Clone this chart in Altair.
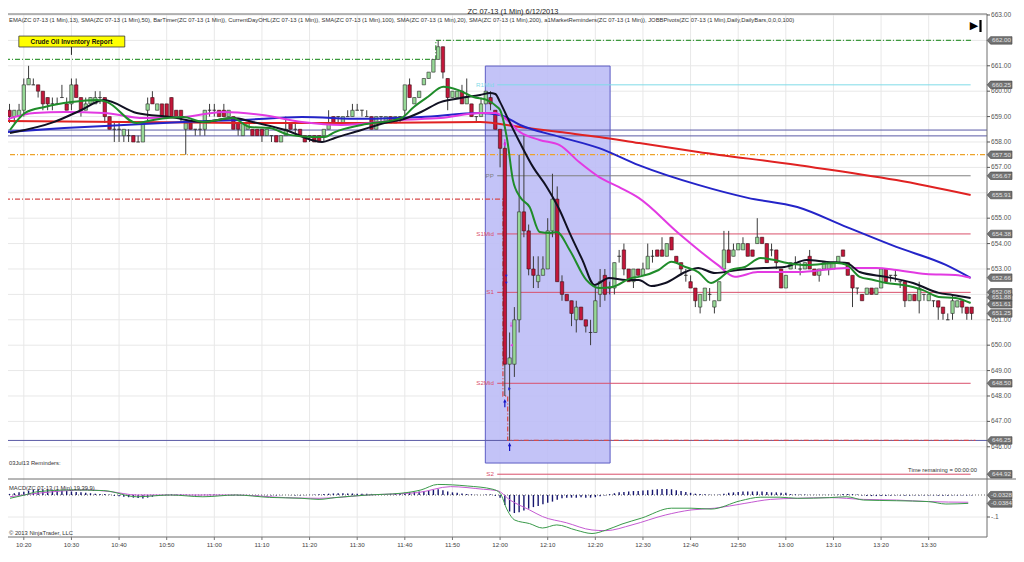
import altair as alt
import pandas as pd

FONT = "Liberation Sans"
W, H = 1016, 553

# ---------------- data ----------------
# one-minute bars, minute of day (617 = 10:17 ... 819 = 13:39)
bar_minutes = list(range(617, 820))
opens = [
    659.25, 659.0, 659.0, 659.25, 660.25, 660.25, 660.25, 660.0, 659.75, 659.5,
    659.5, 659.75, 659.5, 659.5, 660.25, 659.75, 659.25, 659.5, 659.5, 659.75,
    659.75, 659.0, 658.5, 658.5, 658.25, 658.25, 658.25, 658.0, 658.0, 659.25,
    659.75, 659.25, 659.5, 659.5, 659.75, 659.25, 659.25, 658.5, 658.75, 658.5,
    658.5, 658.5, 659.25, 659.25, 659.25, 659.25, 659.0, 659.0, 658.75, 658.25,
    658.5, 658.5, 658.5, 658.5, 658.25, 658.25, 658.25, 658.0, 658.25, 658.75,
    658.5, 658.5, 658.25, 658.25, 658.25, 658.25, 658.25, 658.5, 659.0, 659.0,
    658.75, 659.0, 659.0, 659.25, 659.25, 659.0, 659.0, 658.5, 659.0, 658.75,
    659.0, 658.75, 659.0, 659.25, 660.25, 659.5, 659.75, 660.25, 660.5, 660.75,
    661.25, 661.75, 660.5, 659.75, 659.75, 660.0, 659.5, 659.5, 659.0, 659.0,
    659.5, 659.75, 659.25, 658.5, 657.75, 649.25, 649.25, 651.0, 655.25, 654.5,
    653.0, 652.5, 652.75, 653.0, 654.5, 655.75, 652.5, 652.0, 651.75, 651.0,
    651.5, 651.0, 650.5, 650.5, 652.0, 652.75, 652.25, 652.25, 653.5, 653.75,
    653.0, 652.5, 653.0, 652.75, 653.0, 653.5, 653.75, 653.75, 653.5, 654.25,
    653.5, 653.25, 652.75, 652.5, 652.25, 651.5, 651.75, 652.0, 651.5, 651.75,
    653.0, 653.75, 653.5, 653.75, 653.75, 654.0, 653.75, 654.0, 654.25, 654.0,
    653.75, 653.75, 653.0, 652.25, 653.0, 653.25, 653.0, 653.0, 653.5, 653.0,
    652.75, 653.0, 653.0, 653.0, 653.25, 653.75, 653.25, 652.75, 652.25, 652.0,
    652.0, 652.25, 652.0, 652.25, 653.0, 652.75, 652.75, 652.5, 652.5, 651.75,
    652.0, 651.75, 652.0, 651.75, 651.75, 651.75, 651.5, 651.0, 651.25, 651.5,
    651.75, 651.5, 651.5]
highs = [
    659.5, 659.25, 659.5, 660.5, 661.0, 660.5, 660.25, 660.0, 659.75, 659.75,
    659.75, 660.25, 659.75, 660.5, 660.5, 659.75, 659.75, 659.75, 660.0, 660.0,
    659.75, 659.0, 658.75, 658.75, 658.5, 658.5, 658.25, 658.25, 658.75, 659.75,
    660.0, 659.5, 659.5, 659.5, 659.75, 659.25, 659.25, 658.75, 658.75, 658.5,
    658.75, 659.25, 659.5, 659.5, 659.25, 659.5, 659.25, 659.0, 658.75, 658.75,
    658.75, 658.5, 658.5, 658.5, 658.5, 658.25, 658.25, 658.25, 659.0, 658.75,
    658.75, 658.5, 658.25, 658.25, 658.25, 658.25, 658.5, 659.25, 659.0, 659.0,
    659.0, 659.25, 659.5, 659.5, 659.25, 659.25, 659.0, 659.0, 659.0, 659.0,
    659.0, 659.0, 659.0, 660.25, 660.5, 659.75, 660.0, 660.5, 660.75, 661.25,
    662.0, 661.75, 660.5, 660.0, 660.0, 660.25, 660.5, 659.5, 659.0, 659.75,
    660.0, 660.0, 659.25, 658.5, 658.0, 650.5, 651.5, 657.5, 658.25, 654.75,
    653.5, 653.5, 653.5, 655.0, 656.75, 656.25, 652.75, 652.0, 651.75, 651.75,
    651.5, 651.0, 651.0, 652.25, 653.0, 653.0, 652.5, 653.25, 653.75, 654.0,
    653.0, 653.0, 653.0, 653.25, 654.0, 653.75, 653.75, 654.25, 654.0, 654.25,
    653.5, 653.25, 653.0, 652.75, 652.25, 652.0, 652.25, 652.25, 651.75, 652.5,
    654.5, 654.5, 654.0, 654.0, 654.25, 654.0, 653.75, 655.0, 654.25, 654.0,
    654.0, 653.75, 653.0, 652.75, 653.25, 653.5, 653.25, 653.25, 653.75, 653.0,
    653.0, 653.25, 653.25, 653.25, 653.5, 653.75, 653.25, 652.75, 652.25, 652.0,
    652.25, 652.25, 652.25, 653.0, 653.0, 652.75, 653.0, 652.5, 652.5, 652.0,
    652.0, 652.5, 652.0, 652.0, 651.75, 651.75, 651.5, 651.25, 652.0, 651.75,
    651.75, 651.5, 651.5]
lows = [
    658.75, 658.75, 659.0, 659.0, 660.25, 660.25, 659.75, 659.25, 659.25, 659.25,
    659.5, 659.75, 659.25, 659.25, 659.75, 659.0, 659.25, 659.5, 659.5, 659.5,
    658.75, 658.5, 658.0, 658.0, 658.0, 658.0, 658.0, 658.0, 658.0, 658.75,
    659.5, 659.25, 659.0, 659.0, 659.0, 659.0, 658.75, 657.5, 658.5, 658.25,
    658.25, 658.25, 659.0, 659.0, 659.0, 659.0, 659.0, 658.5, 658.25, 658.25,
    658.5, 658.25, 658.25, 658.0, 658.25, 658.0, 658.0, 658.0, 658.25, 658.5,
    658.25, 658.25, 658.0, 658.0, 658.0, 658.0, 658.0, 658.5, 658.75, 658.75,
    658.75, 659.0, 659.0, 659.25, 659.0, 659.0, 658.5, 658.5, 658.75, 658.75,
    658.75, 658.75, 658.75, 659.0, 659.75, 659.5, 659.75, 660.25, 660.5, 660.75,
    661.25, 660.5, 659.25, 659.75, 659.75, 659.5, 659.5, 659.0, 658.75, 659.0,
    659.5, 659.25, 658.5, 657.0, 648.0, 646.25, 648.75, 650.5, 654.25, 652.75,
    652.25, 652.25, 652.75, 653.0, 654.25, 652.5, 651.75, 651.75, 650.75, 650.5,
    651.0, 650.5, 650.0, 650.5, 651.5, 651.75, 652.0, 652.0, 653.25, 652.75,
    652.5, 652.25, 652.75, 652.75, 653.0, 653.25, 653.5, 653.5, 653.5, 653.75,
    653.25, 652.75, 652.5, 652.25, 651.5, 651.25, 651.75, 651.75, 651.25, 651.75,
    653.0, 653.25, 653.5, 653.75, 653.75, 653.5, 653.5, 654.0, 654.0, 653.25,
    653.5, 653.0, 652.25, 652.25, 653.0, 653.0, 652.75, 653.0, 653.0, 652.75,
    652.5, 653.0, 652.75, 653.0, 653.25, 653.5, 652.75, 651.5, 652.0, 651.75,
    652.0, 652.0, 652.0, 652.25, 652.5, 652.5, 652.5, 652.25, 651.5, 651.75,
    651.75, 651.25, 651.75, 651.75, 651.5, 651.0, 651.0, 651.0, 651.0, 651.5,
    651.25, 651.0, 651.0]
closes = [
    659.0, 659.25, 659.25, 660.25, 660.5, 660.25, 660.0, 659.5, 659.5, 659.5,
    659.5, 659.75, 659.25, 660.25, 659.75, 659.25, 659.5, 659.75, 659.75, 659.75,
    659.0, 658.5, 658.5, 658.5, 658.5, 658.25, 658.0, 658.0, 658.75, 659.5,
    659.5, 659.5, 659.0, 659.0, 659.0, 659.0, 659.0, 658.75, 658.5, 658.5,
    658.5, 659.25, 659.25, 659.25, 659.0, 659.0, 659.25, 658.5, 658.5, 658.75,
    658.75, 658.25, 658.25, 658.25, 658.5, 658.25, 658.0, 658.25, 658.5, 658.5,
    658.5, 658.25, 658.0, 658.25, 658.0, 658.0, 658.5, 658.75, 658.75, 659.0,
    659.0, 659.0, 659.25, 659.25, 659.25, 659.0, 658.5, 659.0, 659.0, 659.0,
    658.75, 659.0, 659.0, 660.25, 659.75, 659.75, 660.0, 660.5, 660.75, 661.25,
    661.75, 660.75, 659.75, 660.0, 660.0, 659.5, 659.75, 659.0, 659.0, 659.5,
    660.0, 659.5, 658.5, 657.75, 649.25, 649.5, 651.0, 655.25, 654.5, 653.0,
    652.75, 652.75, 653.0, 654.5, 655.75, 652.5, 652.0, 651.75, 651.25, 651.5,
    651.0, 650.75, 650.5, 651.75, 652.5, 652.0, 652.25, 653.25, 653.5, 653.0,
    652.5, 653.0, 652.75, 653.0, 653.5, 653.5, 653.5, 653.5, 654.0, 653.75,
    653.25, 653.0, 652.75, 652.25, 651.75, 652.0, 652.25, 652.0, 651.75, 652.5,
    653.75, 653.25, 653.75, 654.0, 654.0, 653.5, 653.5, 654.25, 654.0, 653.25,
    653.75, 653.25, 652.25, 652.75, 653.25, 653.25, 653.0, 653.25, 653.0, 652.75,
    653.0, 653.25, 653.25, 653.25, 653.5, 653.5, 652.75, 652.25, 652.25, 651.75,
    652.25, 652.0, 652.25, 653.0, 652.5, 652.75, 652.75, 652.5, 651.75, 652.0,
    651.75, 652.25, 652.0, 652.0, 651.75, 651.5, 651.25, 651.0, 651.75, 651.75,
    651.5, 651.25, 651.25]

# moving averages (minute of day, price)
ema13_t = [617.1, 620.2, 624.4, 630.0, 635.4, 637.5, 643.7, 647.2, 653.5, 657.6,
           663.9, 667.4, 671.6, 675.7, 680.5, 683.2, 685.3, 690.9, 699.2, 701.9,
           704.8, 708.1, 711.1, 714.4, 717.3, 719.4, 720.0, 721.5, 722.7,
           724.2, 726.2, 728.3, 730.4, 731.9, 734.6, 738.1, 740.8, 743.5, 747.7,
           749.1, 753.3, 756.0, 758.9, 761.6, 764.3, 765.7, 768.4, 771.4, 774.7,
           777.6, 780.3, 784.4, 790.7, 792.8, 795.5, 798.4, 801.1, 804.6, 808.8,
           812.1, 815.6, 818.8]
ema13_p = [658.47, 659.14, 659.38, 659.57, 659.65, 659.57, 658.75, 658.87, 658.98, 658.79,
           658.94, 658.59, 658.55, 658.28, 658.20, 658.20, 658.39, 658.67, 658.94, 659.38,
           659.77, 660.17, 660.05, 659.77, 659.65, 659.38, 659.26, 658.08, 656.5,
           655.83, 655.44, 654.46, 654.42, 654.46, 653.75, 652.57, 652.25, 652.29, 652.65,
           652.69, 652.96, 653.28, 653.08, 652.88, 652.45, 652.57, 652.96, 653.08, 653.43,
           653.35, 653.24, 653.16, 653.24, 653.16, 652.69, 652.57, 652.45, 652.37, 652.17,
           651.90, 651.86, 651.66]
sma20_t = [617.1, 626.4, 632.1, 636.8, 643.7, 650.8, 657.6, 663.9, 668.0, 674.9,
           682.6, 685.3, 690.9, 695.7, 699.2, 703.4, 707.5, 711.7, 715.8, 717.9,
           719.0, 720.0, 721.5, 724.2, 726.9, 729.8, 732.5, 734.6, 737.3, 739.8,
           742.9, 746.4, 749.1, 751.8, 754.7, 758.9, 761.6, 765.1, 769.9, 775.5,
           779.7, 784.4, 788.6, 792.8, 795.5, 801.1, 806.7, 812.1, 815.0, 818.8]
sma20_p = [658.35, 658.79, 659.26, 659.65, 659.14, 658.98, 658.79, 658.94, 658.79, 658.47,
           658.0, 658.16, 658.47, 658.75, 658.87, 659.18, 659.57, 659.73, 659.85, 659.93,
           659.89, 659.57, 658.98, 657.96, 657.02, 656.23, 655.32, 654.42, 653.35, 652.37,
           652.65, 652.57, 652.57, 652.33, 652.45, 652.88, 653.04, 652.84, 652.96, 653.04,
           653.08, 653.35, 653.28, 653.24, 652.88, 652.69, 652.45, 652.06, 651.98, 651.86]
sma50_t = [616.05, 622.3, 628.5, 636.8, 645.2, 653.5, 661.8, 670.1, 678.4, 686.7,
           699.2, 707.5, 715.8, 719.0, 721.0, 724.2, 728.3, 732.5, 736.6, 740.8,
           744.9, 749.1, 757.4, 765.7, 769.3, 774.1, 782.4, 792.8, 799.0, 803.2,
           809.4, 815.6, 818.8]
sma50_p = [658.87, 659.14, 659.18, 659.14, 658.94, 658.98, 659.18, 659.06, 658.79, 658.67,
           658.87, 658.94, 659.14, 659.14, 658.94, 658.39, 658.08, 657.88, 657.21, 656.62,
           656.23, 655.80, 654.42, 653.16, 652.69, 652.88, 652.88, 653.04, 653.04, 652.96,
           652.80, 652.76, 652.65]
sma100_t = [616.05, 628.5, 641.0, 653.5, 665.9, 678.4, 690.9, 703.4, 715.8, 720.0,
            724.2, 732.5, 740.8, 749.1, 761.6, 772.0, 782.4, 792.8, 803.2, 813.6, 818.8]
sma100_p = [658.39, 658.55, 658.67, 658.79, 658.87, 658.98, 658.91, 658.98, 659.14, 659.06,
            658.67, 658.20, 657.76, 657.09, 656.31, 655.80, 655.44, 654.65, 653.87, 653.16, 652.65]
sma200_t = [616.05, 641.0, 665.9, 690.9, 715.8, 724.2, 732.5, 740.8, 749.1, 761.6,
            782.4, 803.2, 818.8]
sma200_p = [658.83, 658.79, 658.75, 658.75, 658.79, 658.59, 658.39, 658.20, 657.96, 657.61,
            657.09, 656.50, 655.91]

# MACD panel
macd_t = [617.1, 620.2, 622.9, 630.0, 636.8, 643.7, 650.8, 657.6, 664.5, 671.6,
          678.4, 682.0, 685.3, 692.3, 699.2, 703.4, 706.9, 713.1, 718.5, 720.0,
          721.5, 723.1, 726.2, 728.9, 731.9, 736.0, 739.3, 742.2, 745.6, 749.7,
          756.0, 760.1, 764.3, 770.5, 774.7, 778.8, 782.4, 789.2, 792.8, 796.3,
          803.2, 810.0, 813.6, 818.3]
macd_v = [-0.015, 0.0, 0.015, 0.023, 0.02, -0.008, 0.0, -0.008, 0.0, -0.011,
          -0.015, -0.02, -0.012, 0.0, 0.008, 0.023, 0.048, 0.041, 0.026, 0.008,
          -0.068, -0.114, -0.13, -0.15, -0.136, -0.16, -0.175, -0.16, -0.132, -0.105,
          -0.06, -0.06, -0.064, -0.026, -0.01, -0.01, -0.015, -0.012, -0.008, -0.023,
          -0.026, -0.03, -0.041, -0.038]
signal_t = [617.1, 622.9, 633.3, 638.3, 643.7, 650.8, 664.5, 674.9, 682.0, 692.3,
            702.7, 709.6, 716.5, 719.4, 722.1, 726.2, 728.9, 733.9, 739.3, 742.2,
            747.7, 754.7, 760.1, 765.1, 771.4, 776.8, 782.4, 789.2, 796.3, 803.2,
            810.0, 818.3]
signal_v = [-0.008, 0.008, 0.023, 0.015, 0.0, 0.0, 0.0, -0.012, -0.015, 0.0,
            0.011, 0.038, 0.026, 0.02, -0.023, -0.068, -0.098, -0.126, -0.159, -0.162,
            -0.136, -0.091, -0.068, -0.06, -0.038, -0.02, -0.015, -0.012, -0.02, -0.023,
            -0.03, -0.033]
hist_v = [
    0.005, 0.008, 0.012, 0.015, 0.02, 0.024, 0.026, 0.026, 0.025, 0.024,
    0.022, 0.02, 0.018, 0.016, 0.014, 0.012, 0.01, 0.008, 0.006, 0.005,
    0.004, 0.002, -0.004, -0.006, -0.008, -0.01, -0.012, -0.014, -0.016, -0.012,
    -0.008, -0.004, -0.002, 0.002, 0.003, 0.002, 0.002, 0.001, -0.001, -0.002,
    -0.001, 0.001, 0.002, 0.002, 0.001, 0.0, -0.001, -0.002, -0.002, -0.001,
    -0.001, -0.002, -0.002, -0.001, -0.001, -0.002, -0.002, -0.001, 0.0, -0.001,
    -0.002, -0.002, -0.001, 0.001, 0.002, 0.003, 0.005, 0.006, 0.007, 0.008,
    0.008, 0.007, 0.007, 0.006, 0.006, 0.006, 0.005, 0.005, 0.005, 0.005,
    0.005, 0.006, 0.006, 0.01, 0.012, 0.014, 0.016, 0.018, 0.02, 0.024,
    0.026, 0.022, 0.016, 0.012, 0.01, 0.007, 0.005, 0.003, 0.001, 0.0,
    0.002, 0.003, -0.004, -0.012, -0.045, -0.075, -0.082, -0.078, -0.07, -0.062,
    -0.055, -0.05, -0.042, -0.035, -0.03, -0.022, -0.015, -0.012, -0.012, -0.012,
    -0.01, -0.012, -0.012, -0.01, -0.006, -0.002, 0.004, 0.008, 0.012, 0.014,
    0.016, 0.018, 0.018, 0.02, 0.022, 0.024, 0.026, 0.027, 0.027, 0.026,
    0.022, 0.018, 0.014, 0.01, 0.006, 0.004, 0.003, 0.002, 0.001, 0.002,
    0.006, 0.01, 0.012, 0.014, 0.016, 0.016, 0.016, 0.016, 0.016, 0.014,
    0.012, 0.012, 0.01, 0.01, 0.004, 0.003, 0.002, 0.002, 0.001, 0.001,
    0.001, 0.001, 0.001, 0.001, 0.002, 0.004, 0.005, 0.004, 0.002, -0.002,
    -0.004, -0.005, -0.005, -0.004, -0.004, -0.003, -0.002, -0.002, -0.003, -0.003,
    -0.002, -0.002, -0.002, -0.002, -0.002, -0.003, -0.003, -0.003, -0.002, -0.002,
    -0.002, -0.002, -0.002]

# axes / levels
time_ticks = [620, 630, 640, 650, 660, 670, 680, 690, 700, 710,
              720, 730, 740, 750, 760, 770, 780, 790, 800, 810]
time_labels = ["10:20", "10:30", "10:40", "10:50", "11:00", "11:10", "11:20", "11:30", "11:40", "11:50",
               "12:00", "12:10", "12:20", "12:30", "12:40", "12:50", "13:00", "13:10", "13:20", "13:30"]
price_ticks = [663, 661, 660, 659, 658, 657, 655, 654, 653, 651, 650, 649, 648, 647, 646]
grid_prices = [646, 647, 648, 649, 650, 651, 652, 653, 654, 655, 656, 657, 658, 659, 660, 661, 662, 663]
tag_values = [662.00, 660.25, 657.50, 656.67, 655.91, 654.38, 652.66, 652.08, 651.88,
              651.61, 651.25, 648.50, 646.25, 644.92]
macd_tag_values = [-0.0328, -0.0384]
pivot_names = ["R1Mid", "PP", "S1Mid", "S1", "S2Mid", "S2"]
pivot_values = [660.25, 656.67, 654.38, 652.08, 648.50, 644.92]
band_levels = [658.47, 658.24, 646.25]
orange_level = [657.50]
day_high_t = [616.05, 706.5, 706.5, 819.2]
day_high_p = [661.25, 661.25, 662.0, 662.0]
day_low_t = [616.05, 720.6, 720.6, 721.6, 721.6, 819.8]
day_low_p = [655.75, 655.75, 648.0, 648.0, 646.25, 646.25]
zone_t = [716.9, 743.1]
zone_p = [660.99, 645.36]
news_t = [618.96, 641.2, 630.0]
news_p = [662.17, 661.74, 661.43]
buy_arrows_t = [721.0, 722.0]
buy_arrows_p = [647.72, 646.0]

# ---------------- scales ----------------
XS = alt.Scale(domain=[616.05, 616.05 + W / 4.81], nice=False, zero=False)
PS = alt.Scale(domain=[663.59 - H / 25.4, 663.59], nice=False, zero=False)
MS = alt.Scale(domain=[-(H - 495) / 220.0, 2.25], nice=False, zero=False)


def xq(f):
    return alt.X(f, type="quantitative", scale=XS, axis=None)


def yp(f):
    return alt.Y(f, type="quantitative", scale=PS, axis=None)


def ym(f):
    return alt.Y(f, type="quantitative", scale=MS, axis=None)


one = pd.DataFrame({"k": [0]})


def ptext(txt, x, y, size=5.8, align="left", color="#333333", weight="normal", font=FONT):
    return alt.Chart(one).mark_text(text=txt, align=align, baseline="middle", fontSize=size,
                                    color=color, fontWeight=weight, font=font).encode(
        x=alt.value(x), y=alt.value(y))


def prule(x1, y1, x2, y2, color="#6e6e6e", w=1):
    return alt.Chart(one).mark_rule(color=color, strokeWidth=w).encode(
        x=alt.value(x1), y=alt.value(y1), x2=alt.value(x2), y2=alt.value(y2))


layers = []

# grid
layers.append(alt.Chart(pd.DataFrame({"t": time_ticks})).mark_rule(color="#e8e8e8").encode(
    x=xq("t"), y=alt.value(14), y2=alt.value(537)))
layers.append(alt.Chart(pd.DataFrame({"p": grid_prices})).mark_rule(color="#e8e8e8").encode(
    x=alt.value(0), x2=alt.value(987), y=yp("p")))
layers.append(alt.Chart(pd.DataFrame({"v": [-0.1]})).mark_rule(color="#e8e8e8").encode(
    x=alt.value(0), x2=alt.value(987), y=ym("v")))

# blue zone
zone_df = pd.DataFrame({"t1": [zone_t[0]], "t2": [zone_t[1]], "p1": [zone_p[0]], "p2": [zone_p[1]]})
layers.append(alt.Chart(zone_df).mark_rect(fill="#bcbcf6", fillOpacity=0.9, stroke="#5c5cc4",
                                           strokeWidth=1).encode(
    x=xq("t1"), x2="t2", y=yp("p1"), y2="p2"))

# horizontal levels
layers.append(alt.Chart(pd.DataFrame({"p": band_levels})).mark_rule(color="#5a5aa6", strokeWidth=1).encode(
    x=alt.value(0), x2=alt.value(987), y=yp("p")))
layers.append(alt.Chart(pd.DataFrame({"p": orange_level})).mark_rule(
    color="#eda32a", strokeWidth=1.3, strokeDash=[5, 2, 1, 2]).encode(
    x=alt.value(0), x2=alt.value(985), y=yp("p")))

piv = pd.DataFrame({"name": pivot_names, "p": pivot_values})
piv_colors = alt.Scale(domain=pivot_names,
                       range=["#7fdbe8", "#808080", "#d9506b", "#d9506b", "#d9506b", "#d9506b"])
piv["t1"] = 719.4
piv["t2"] = 818.8
piv["tl"] = 718.7
layers.append(alt.Chart(piv).mark_rule(strokeWidth=1).encode(
    x=xq("t1"), x2="t2", y=yp("p"),
    color=alt.Color("name:N", scale=piv_colors, legend=None)))
layers.append(alt.Chart(piv).mark_text(align="right", baseline="middle", fontSize=6.2, font=FONT).encode(
    x=xq("tl"), y=yp("p"), text="name:N",
    color=alt.Color("name:N", scale=piv_colors, legend=None)))

dh = pd.DataFrame({"t": day_high_t, "p": day_high_p, "i": list(range(len(day_high_t)))})
layers.append(alt.Chart(dh).mark_line(color="#3d9a3d", strokeWidth=1.3, strokeDash=[5, 2, 1, 2]).encode(
    x=xq("t"), y=yp("p"), order="i:Q"))
dl = pd.DataFrame({"t": day_low_t, "p": day_low_p, "i": list(range(len(day_low_t)))})
layers.append(alt.Chart(dl).mark_line(color="#d84a4a", strokeWidth=1.3, strokeDash=[5, 2, 1, 2]).encode(
    x=xq("t"), y=yp("p"), order="i:Q"))

# candles
candles = pd.DataFrame({"t": bar_minutes, "o": opens, "h": highs, "l": lows, "c": closes})
up_bars = candles[candles["c"] >= candles["o"]]
down_bars = candles[candles["c"] < candles["o"]]
layers.append(alt.Chart(candles).mark_rule(color="#3c3c3c", strokeWidth=1).encode(
    x=xq("t"), y=yp("l"), y2="h"))
layers.append(alt.Chart(up_bars).mark_bar(width=3.4, fill="#96d896", stroke="#2e2e2e", strokeWidth=0.6).encode(
    x=xq("t"), y=yp("o"), y2="c"))
layers.append(alt.Chart(down_bars).mark_bar(width=3.4, fill="#c3163a", stroke="#3a1018", strokeWidth=0.6).encode(
    x=xq("t"), y=yp("o"), y2="c"))


def ma(ts, ps, color, w=2.0):
    return alt.Chart(pd.DataFrame({"t": ts, "p": ps})).mark_line(
        color=color, strokeWidth=w, interpolate="monotone").encode(x=xq("t"), y=yp("p"))


layers.append(ma(sma200_t, sma200_p, "#e02222"))
layers.append(ma(sma100_t, sma100_p, "#2424c8"))
layers.append(ma(sma50_t, sma50_p, "#e23ae2"))
layers.append(ma(sma20_t, sma20_p, "#111122"))
layers.append(ma(ema13_t, ema13_p, "#1f8c2a"))

# trade markers
layers.append(alt.Chart(pd.DataFrame({"t": buy_arrows_t, "p": buy_arrows_p})).mark_point(
    shape="arrow", filled=True, size=70, color="#1414c8", opacity=1).encode(x=xq("t"), y=yp("p")))
layers.append(alt.Chart(pd.DataFrame({"t": [721.0], "p": [657.96]})).mark_point(
    shape="arrow", angle=180, filled=True, size=60, color="#e020e0", opacity=1).encode(x=xq("t"), y=yp("p")))
layers.append(alt.Chart(pd.DataFrame({"t": [722.3], "p": [650.8]})).mark_point(
    shape="arrow", angle=180, filled=True, size=30, color="#e040e0", opacity=1).encode(x=xq("t"), y=yp("p")))
layers.append(alt.Chart(pd.DataFrame({"t": [722.4], "p": [650.0]})).mark_point(
    shape="triangle-left", filled=True, size=10, color="#e040e0", opacity=1).encode(x=xq("t"), y=yp("p")))
layers.append(alt.Chart(pd.DataFrame({"t": [721.3, 721.3], "p": [652.72, 652.45]})).mark_point(
    shape="triangle-down", filled=True, size=8, color="#2020d0", opacity=1).encode(x=xq("t"), y=yp("p")))
layers.append(alt.Chart(pd.DataFrame({"t": [722.0], "p": [648.28]})).mark_point(
    shape="triangle-right", filled=True, size=10, color="#2020d0", opacity=1).encode(x=xq("t"), y=yp("p")))

# news box
nb = pd.DataFrame({"t1": [news_t[0]], "t2": [news_t[1]], "p1": [news_p[0]], "p2": [news_p[1]],
                   "tm": [news_t[2]], "p3": [news_p[2]], "pm": [(news_p[0] + news_p[1]) / 2]})
layers.append(alt.Chart(nb).mark_rect(fill="#ffff00", stroke="#333333", strokeWidth=0.8).encode(
    x=xq("t1"), x2="t2", y=yp("p1"), y2="p2"))
layers.append(alt.Chart(nb).mark_rule(color="#222222", strokeWidth=1).encode(
    x=xq("tm"), y=yp("p2"), y2="p3"))
layers.append(alt.Chart(nb).mark_text(text="Crude Oil Inventory Report", fontSize=6.4, fontWeight="bold",
                                      font=FONT, color="#111111", baseline="middle").encode(
    x=xq("tm"), y=yp("pm")))

# MACD panel
layers.append(alt.Chart(pd.DataFrame({"v": [0.0]})).mark_rule(color="#666666", strokeDash=[1, 2]).encode(
    x=alt.value(0), x2=alt.value(987), y=ym("v")))
hist = pd.DataFrame({"t": bar_minutes, "h": hist_v, "z": [0.0] * len(bar_minutes)})
layers.append(alt.Chart(hist).mark_rule(color="#16166e", strokeWidth=1.4).encode(
    x=xq("t"), y=ym("h"), y2="z"))
layers.append(alt.Chart(pd.DataFrame({"t": signal_t, "v": signal_v})).mark_line(
    color="#c45ad2", strokeWidth=1, interpolate="monotone").encode(x=xq("t"), y=ym("v")))
layers.append(alt.Chart(pd.DataFrame({"t": macd_t, "v": macd_v})).mark_line(
    color="#3a9a4a", strokeWidth=1, interpolate="monotone").encode(x=xq("t"), y=ym("v")))

# frame
layers.append(prule(0, 14, 987, 14))
layers.append(prule(987, 14, 987, 537))
layers.append(prule(0, 479, 1016, 479))
layers.append(prule(0, 537, 987, 537))

# price axis
pt = pd.DataFrame({"p": price_ticks, "lab": ["%.2f" % v for v in price_ticks]})
layers.append(alt.Chart(pt).mark_rule(color="#555555").encode(
    x=alt.value(987), x2=alt.value(990), y=yp("p")))
layers.append(alt.Chart(pt).mark_text(align="left", baseline="middle", fontSize=6.6, font=FONT,
                                      color="#555555").encode(
    x=alt.value(991), y=yp("p"), text="lab:N"))
mt = pd.DataFrame({"v": [-0.1], "lab": ["-.1"]})
layers.append(alt.Chart(mt).mark_rule(color="#555555").encode(
    x=alt.value(987), x2=alt.value(990), y=ym("v")))
layers.append(alt.Chart(mt).mark_text(align="left", baseline="middle", fontSize=6.6, font=FONT,
                                      color="#555555").encode(
    x=alt.value(991), y=ym("v"), text="lab:N"))

TAG = "M-1.25,0L-0.95,-0.34L1,-0.34L1,0.34L-0.95,0.34Z"
TAG_UP = "M-1.25,-0.64L-0.95,-0.98L1,-0.98L1,-0.3L-0.95,-0.3Z"
tg = pd.DataFrame({"p": tag_values, "lab": ["%.2f" % v for v in tag_values]})
layers.append(alt.Chart(tg).mark_point(shape=TAG, size=484, filled=True, fill="#737373",
                                       stroke="#3f3f3f", strokeWidth=0.6, opacity=1).encode(
    x=alt.value(1001), y=yp("p")))
layers.append(alt.Chart(tg).mark_text(align="center", baseline="middle", fontSize=6.2, font=FONT,
                                      color="#e2e2e2").encode(
    x=alt.value(1001.5), y=yp("p"), text="lab:N"))
mtg_a = pd.DataFrame({"v": [macd_tag_values[0]], "lab": ["-0.0328"]})
mtg_b = pd.DataFrame({"v": [macd_tag_values[1]], "lab": ["-0.0384"]})
layers.append(alt.Chart(mtg_a).mark_point(shape=TAG_UP, size=484, filled=True, fill="#737373",
                                          stroke="#3f3f3f", strokeWidth=0.6, opacity=1).encode(
    x=alt.value(1001), y=ym("v")))
layers.append(alt.Chart(mtg_a).mark_text(align="center", baseline="middle", fontSize=6.2, font=FONT,
                                         color="#e2e2e2", dy=-7).encode(
    x=alt.value(1001.5), y=ym("v"), text="lab:N"))
layers.append(alt.Chart(mtg_b).mark_point(shape=TAG, size=484, filled=True, fill="#737373",
                                          stroke="#3f3f3f", strokeWidth=0.6, opacity=1).encode(
    x=alt.value(1001), y=ym("v")))
layers.append(alt.Chart(mtg_b).mark_text(align="center", baseline="middle", fontSize=6.2, font=FONT,
                                         color="#e2e2e2").encode(
    x=alt.value(1001.5), y=ym("v"), text="lab:N"))

# time axis
tt = pd.DataFrame({"t": time_ticks, "lab": time_labels})
layers.append(alt.Chart(tt).mark_rule(color="#777777").encode(
    x=xq("t"), y=alt.value(537), y2=alt.value(540)))
layers.append(alt.Chart(tt).mark_text(align="center", baseline="middle", fontSize=6.2, font=FONT,
                                      color="#444444").encode(
    x=xq("t"), y=alt.value(545), text="lab:N"))

# texts
layers.append(ptext("ZC 07-13 (1 Min)  6/12/2013", 513, 11.5, size=7.4, align="center", color="#222222"))
layers.append(ptext("EMA(ZC 07-13 (1 Min),13), SMA(ZC 07-13 (1 Min),50), BarTimer(ZC 07-13 (1 Min)), "
                    "CurrentDayOHL(ZC 07-13 (1 Min)), SMA(ZC 07-13 (1 Min),100), SMA(ZC 07-13 (1 Min),20), "
                    "SMA(ZC 07-13 (1 Min),200), a1MarketReminders(ZC 07-13 (1 Min)), "
                    "JOBBPivots(ZC 07-13 (1 Min),Daily,DailyBars,0,0,0,100)", 9, 20, size=5.85))
layers.append(ptext("03Jul13 Reminders:", 9, 463, size=5.8))
layers.append(ptext("Time remaining = 00:00:00", 977, 470, size=5.8, align="right"))
layers.append(ptext("MACD(ZC 07-13 (1 Min),19,39,9)", 9, 488, size=5.8))
layers.append(ptext("\u00a9 2013 NinjaTrader, LLC", 9, 533, size=5.8))
layers.append(ptext("\u25b6", 974, 26, size=11, align="center", color="#000000", font="DejaVu Sans"))
layers.append(prule(980.5, 20, 980.5, 32, color="#000000", w=2.2))

chart = alt.layer(*layers).resolve_scale(y="independent").properties(
    width=W, height=H,
    padding={"left": -8, "top": -8, "right": 0, "bottom": 0},
    autosize=alt.AutoSizeParams(type="none"),
    background="white",
).configure_view(stroke=None)

chart.save("out.html", embed_options={"renderer": "svg", "actions": False})
